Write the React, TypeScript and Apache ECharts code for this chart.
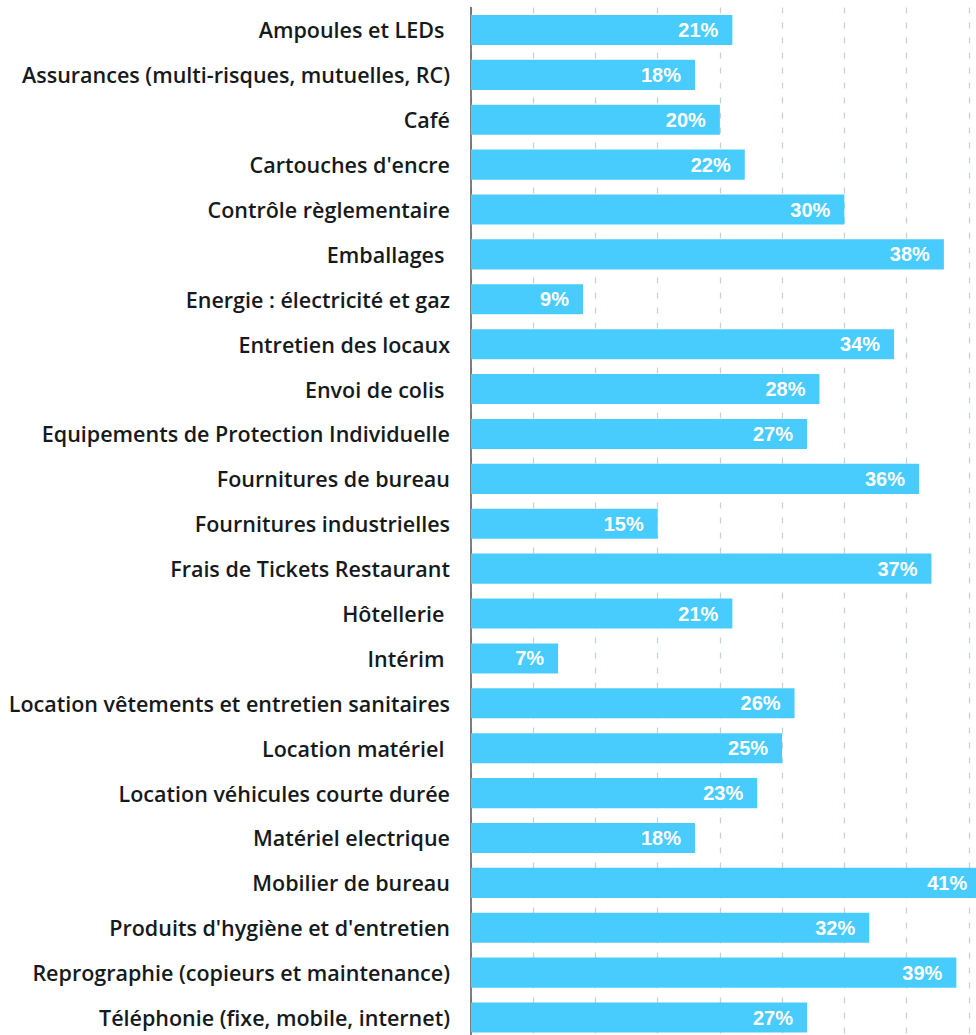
import React, { useEffect, useRef } from "react";
import * as echarts from "echarts";

const categories: string[] = [
  "Ampoules et LEDs ",
  "Assurances (multi-risques, mutuelles, RC)",
  "Café",
  "Cartouches d'encre",
  "Contrôle règlementaire",
  "Emballages ",
  "Energie : électricité et gaz",
  "Entretien des locaux",
  "Envoi de colis ",
  "Equipements de Protection Individuelle",
  "Fournitures de bureau",
  "Fournitures industrielles",
  "Frais de Tickets Restaurant",
  "Hôtellerie ",
  "Intérim ",
  "Location vêtements et entretien sanitaires",
  "Location matériel ",
  "Location véhicules courte durée",
  "Matériel electrique",
  "Mobilier de bureau",
  "Produits d'hygiène et d'entretien",
  "Reprographie (copieurs et maintenance)",
  "Téléphonie (fixe, mobile, internet)",
];

const values: number[] = [21, 18, 20, 22, 30, 38, 9, 34, 28, 27, 36, 15, 37, 21, 7, 26, 25, 23, 18, 41, 32, 39, 27];

export default function App() {
  const ref = useRef<HTMLDivElement>(null);
  useEffect(() => {
    if (!ref.current) return;
    const chart = echarts.init(ref.current, undefined, { renderer: "svg" });
    chart.setOption({
      animation: false,
      grid: { left: 471, right: 0, top: 7.5, bottom: 0, containLabel: false },
      xAxis: {
        type: "value",
        min: 0,
        max: 45,
        interval: 5,
        axisLabel: { show: false },
        axisLine: { show: false },
        axisTick: { show: false },
        splitLine: { show: true, lineStyle: { color: "#c6d4d0", type: [6, 9], width: 1.3 } },
      },
      yAxis: {
        type: "category",
        data: categories,
        inverse: true,
        axisLine: { show: true, lineStyle: { color: "#555", width: 1.5 } },
        axisTick: { show: false },
        axisLabel: {
          margin: 21,
          color: "#161a1c",
          fontFamily: "Open Sans",
          fontWeight: 600,
          fontSize: 21.5,
        },
      },
      series: [
        {
          type: "bar",
          data: values,
          barCategoryGap: "33%",
          itemStyle: { color: "#48ccfd" },
          label: {
            show: true,
            position: "insideRight",
            distance: 14,
            formatter: "{c}%",
            color: "#fff",
            fontFamily: "Liberation Sans",
            fontWeight: "bold",
            fontSize: 20,
          },
        },
      ],
    });
    return () => chart.dispose();
  }, []);
  return (
    <div style={{ position: "absolute", left: 0, top: 0, width: 976, height: 1035, overflow: "hidden" }}>
      <div ref={ref} style={{ position: "absolute", left: 0, top: 0, width: 1031, height: 1040 }} />
    </div>
  );
}
